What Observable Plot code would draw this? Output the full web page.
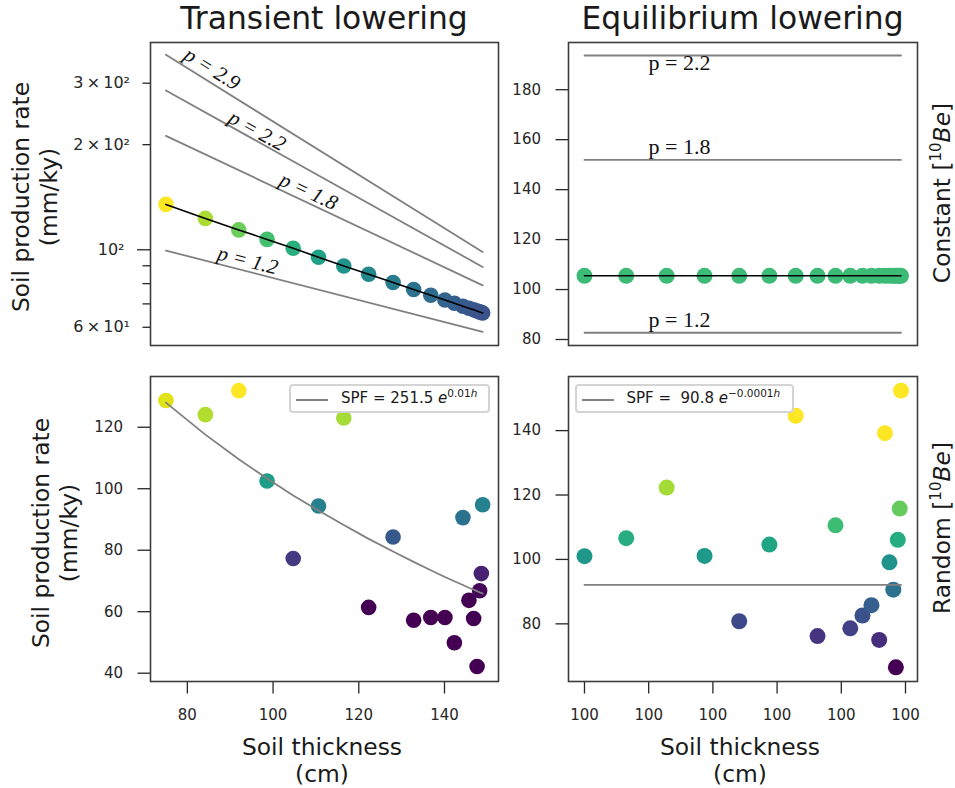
<!DOCTYPE html>
<html>
<head>
<meta charset="utf-8">
<script src="https://cdn.jsdelivr.net/npm/d3@7"></script>
<script src="https://cdn.jsdelivr.net/npm/@observablehq/plot@0.6"></script>
<style>
html, body { margin: 0; padding: 0; background: #fff; }
#fig { position: relative; width: 955px; height: 788px; font-family: "DejaVu Sans", sans-serif; color: #1a1a1a; overflow: hidden; background: #fff; }
#fig svg { position: absolute; max-width: none; }
.title { position: absolute; font-size: 31.4px; line-height: 36.6px; white-space: nowrap; transform: translateX(-50%); }
.xlab { position: absolute; font-size: 23.4px; line-height: 27.4px; text-align: center; white-space: nowrap; transform: translateX(-50%); }
.ylab { position: absolute; font-size: 23.4px; line-height: 28px; text-align: center; white-space: nowrap; transform: translate(-50%, -50%) rotate(-90deg); }
.ylab sup { font-size: 15px; line-height: 0; vertical-align: 9px; }
.legend { position: absolute; box-sizing: border-box; border: 2px solid #d4d4d4; border-radius: 4px; background: rgba(255,255,255,0.8); }
.legend .lline { position: absolute; height: 0; border-top: 2px solid #808080; }
.legend .ltext { position: absolute; font-size: 15px; line-height: 25px; white-space: nowrap; color: #1a1a1a; }
.legend sup { font-size: 10.5px; line-height: 0; vertical-align: 6.5px; }
</style>
</head>
<body>
<div id="fig"></div>
<script>
// ---------- data ----------
const thickness = [75.0, 84.2, 92.0, 98.6, 104.7, 110.6, 116.5, 122.3, 128.0, 132.8, 136.8, 140.1, 142.3, 144.3, 145.7, 146.8, 147.6, 148.2, 148.6, 148.9];
const transientConstantRate = [134.9, 123.0, 114.0, 107.1, 101.0, 95.2, 89.9, 85.1, 80.6, 77.0, 74.1, 71.8, 70.3, 68.9, 68.0, 67.3, 66.8, 66.4, 66.1, 65.9];
const transientRandomRate = [128.7, 124.1, 131.9, 102.5, 77.3, 94.4, 123.0, 61.4, 84.3, 57.2, 58.1, 58.1, 49.9, 90.6, 63.7, 57.8, 42.2, 66.8, 72.4, 94.8];
const transientFitRate = [128.0, 117.6, 109.6, 103.3, 97.8, 92.9, 88.2, 83.7, 79.6, 76.2, 73.5, 71.3, 69.9, 68.7, 67.8, 67.2, 66.7, 66.3, 66.1, 65.9];

const pCurveLabels = ["p = 2.9", "p = 2.2", "p = 1.8", "p = 1.2"];
const pCurveStartRate = [361.8, 286.0, 212.0, 99.5];
const pCurveEndRate = [98.6, 89.3, 79.1, 58.2];
const pCurveLabelThickness = [85.8, 96.3, 108.3, 94.1];
const pCurveLabelRate = [329.8, 219.1, 147.1, 93.2];
const pCurveLabelAngle = [32, 29, 25, 14.5];

const eqThickness = [100.00000, 100.00065, 100.00128, 100.00187, 100.00241, 100.00288, 100.00329, 100.00363, 100.00391, 100.00414, 100.00433, 100.00447, 100.00459, 100.00468, 100.00475, 100.00481, 100.00485, 100.00488, 100.00491, 100.00493];
const eqConstantRate = [105.5, 105.5, 105.5, 105.5, 105.5, 105.5, 105.5, 105.5, 105.5, 105.5, 105.5, 105.5, 105.5, 105.5, 105.5, 105.5, 105.5, 105.5, 105.5, 105.5];
const eqRandomRate = [101.0, 106.6, 122.3, 101.1, 80.8, 104.6, 144.6, 76.2, 110.6, 78.6, 82.6, 85.8, 75.0, 139.2, 99.1, 90.6, 66.5, 106.1, 115.8, 152.4];
const eqFitRate = [92.1, 92.1];

const pLevelLabels = ["p = 2.2", "p = 1.8", "p = 1.2"];
const pLevelRate = [193.7, 151.9, 82.7];
const pLevelLabelThickness = 100.00148;
const pLevelLabelRate = [190.6, 157.1, 87.8];

const transientXTicks = [80, 100, 120, 140];
const eqXTicks = [100, 100.001, 100.002, 100.003, 100.004, 100.005];
const eqXTickLabels = ["100", "100", "100", "100", "100", "100"];
const logMajorTicks = [100];
const logMajorLabels = ["10\u00b2"];
const logMinorTicks = [60, 70, 80, 90, 200, 300];
const logMinorLabels = ["6\u2009\u00d7\u200910\u00b9", "", "", "", "2\u2009\u00d7\u200910\u00b2", "3\u2009\u00d7\u200910\u00b2"];
const constYTicks = [80, 100, 120, 140, 160, 180];
const randTransientYTicks = [40, 60, 80, 100, 120];
const randEqYTicks = [80, 100, 120, 140];

// ---------- tables ----------
const tlDots = thickness.map((h, i) => ({h, rate: transientConstantRate[i]}));
const tlCurves = pCurveLabels.flatMap((p, i) => [
  {p, h: thickness[0], rate: pCurveStartRate[i]},
  {p, h: thickness[thickness.length - 1], rate: pCurveEndRate[i]}
]);
const tlLabels = pCurveLabels.map((p, i) => ({p, h: pCurveLabelThickness[i], rate: pCurveLabelRate[i], a: pCurveLabelAngle[i]}));

const trDots = eqThickness.map((h, i) => ({h, rate: eqConstantRate[i]}));
const trLevels = pLevelLabels.flatMap((p, i) => [
  {p, h: eqThickness[0], rate: pLevelRate[i]},
  {p, h: eqThickness[eqThickness.length - 1], rate: pLevelRate[i]}
]);
const trLabels = pLevelLabels.map((p, i) => ({p, h: pLevelLabelThickness, rate: pLevelLabelRate[i]}));

const blDots = thickness.map((h, i) => ({h, rate: transientRandomRate[i]}));
const blFit = thickness.map((h, i) => ({h, rate: transientFitRate[i]}));

const brDots = eqThickness.map((h, i) => ({h, rate: eqRandomRate[i]}));
const brFit = [
  {h: eqThickness[0], rate: eqFitRate[0]},
  {h: eqThickness[eqThickness.length - 1], rate: eqFitRate[1]}
];

// ---------- drawing ----------
const fig = document.getElementById("fig");
const baseStyle = {fontFamily: "DejaVu Sans, sans-serif", fontSize: "15px", color: "#262626", background: "none", overflow: "visible"};
const frameColor = "#3c3c3c";
const gray = "#808080";
const xDomainT = [71.4, 152.6];
const xDomainE = [99.999751, 100.005187];

function place(svg, left, top) {
  svg.style.left = left + "px";
  svg.style.top = top + "px";
  fig.appendChild(svg);
}

// Top-left: transient, constant
place(Plot.plot({
  width: 510, height: 350,
  marginLeft: 150, marginRight: 12, marginTop: 42, marginBottom: 5,
  style: baseStyle,
  x: {domain: xDomainT, axis: null},
  y: {type: "log", domain: [53.2, 392.3]},
  color: {type: "linear", scheme: "viridis", domain: [42.2, 134.9], clamp: true},
  marks: [
    Plot.line(tlCurves, {x: "h", y: "rate", z: "p", stroke: gray, strokeWidth: 1.8}),
    Plot.dot(tlDots, {x: "h", y: "rate", r: 7.8, fill: "rate"}),
    Plot.line(tlDots, {x: "h", y: "rate", stroke: "#000", strokeWidth: 1.6}),
    Plot.text(tlLabels, {x: "h", y: "rate", text: "p", rotate: "a", fontFamily: "Liberation Serif, serif", fontStyle: "italic", fontSize: 21, fill: "#111", textAnchor: "middle", lineAnchor: "middle"}),
    Plot.axisY({ticks: logMajorTicks, tickSize: 13, tickPadding: 13, strokeWidth: 1.3, label: null, fontSize: 16,
      tickFormat: d => logMajorLabels[logMajorTicks.indexOf(d)]}),
    Plot.axisY({ticks: logMinorTicks, tickSize: 7.5, tickPadding: 13, strokeWidth: 1.3, label: null, fontSize: 16,
      tickFormat: d => logMinorLabels[logMinorTicks.indexOf(d)]}),
    Plot.frame({stroke: frameColor, strokeWidth: 1.6})
  ]
}), 0, 0);

// Top-right: equilibrium, constant
place(Plot.plot({
  width: 420, height: 350,
  marginLeft: 68, marginRight: 3, marginTop: 42, marginBottom: 5,
  style: baseStyle,
  x: {domain: xDomainE, axis: null},
  y: {domain: [77.6, 198.9]},
  color: {type: "linear", scheme: "viridis", domain: [42.2, 134.9], clamp: true},
  marks: [
    Plot.line(trLevels, {x: "h", y: "rate", z: "p", stroke: gray, strokeWidth: 1.8}),
    Plot.dot(trDots, {x: "h", y: "rate", r: 8, fill: "rate"}),
    Plot.line(trDots, {x: "h", y: "rate", stroke: "#000", strokeWidth: 1.6}),
    Plot.text(trLabels, {x: "h", y: "rate", text: "p", fontFamily: "Liberation Serif, serif", fontSize: 22, fill: "#111", textAnchor: "middle", lineAnchor: "middle"}),
    Plot.axisY({ticks: constYTicks, tickSize: 12.5, tickPadding: 15, strokeWidth: 1.3, label: null}),
    Plot.frame({stroke: frameColor, strokeWidth: 1.6})
  ]
}), 500, 0);

// Bottom-left: transient, random
place(Plot.plot({
  width: 510, height: 380,
  marginLeft: 150, marginRight: 12, marginTop: 26, marginBottom: 49,
  style: baseStyle,
  x: {domain: xDomainT},
  y: {domain: [37.3, 136.5]},
  color: {type: "linear", scheme: "viridis", domain: [66, 132], clamp: true},
  marks: [
    Plot.dot(blDots, {x: "h", y: "rate", r: 7.8, fill: "rate"}),
    Plot.line(blFit, {x: "h", y: "rate", stroke: gray, strokeWidth: 1.8}),
    Plot.axisY({ticks: randTransientYTicks, tickSize: 12.5, tickPadding: 15, strokeWidth: 1.3, label: null}),
    Plot.axisX({ticks: transientXTicks, tickSize: 12.5, tickPadding: 15.5, strokeWidth: 1.3, label: null}),
    Plot.frame({stroke: frameColor, strokeWidth: 1.6})
  ]
}), 0, 350);

// Bottom-right: equilibrium, random
place(Plot.plot({
  width: 420, height: 380,
  marginLeft: 68, marginRight: 3, marginTop: 26, marginBottom: 49,
  style: baseStyle,
  x: {domain: xDomainE},
  y: {domain: [62.1, 156.8]},
  color: {type: "linear", scheme: "viridis", domain: [66.5, 131], clamp: true},
  marks: [
    Plot.dot(brDots, {x: "h", y: "rate", r: 8, fill: "rate"}),
    Plot.line(brFit, {x: "h", y: "rate", stroke: gray, strokeWidth: 1.8}),
    Plot.axisY({ticks: randEqYTicks, tickSize: 12.5, tickPadding: 15, strokeWidth: 1.3, label: null}),
    Plot.axisX({ticks: eqXTicks, tickSize: 12.5, tickPadding: 15.5, strokeWidth: 1.3, label: null,
      tickFormat: d => eqXTickLabels[eqXTicks.indexOf(d)]}),
    Plot.frame({stroke: frameColor, strokeWidth: 1.6})
  ]
}), 500, 350);

// ---------- text: titles, labels, legends ----------
function addHTML(html) {
  const t = document.createElement("template");
  t.innerHTML = html.trim();
  fig.appendChild(t.content.firstChild);
}
addHTML(`<div class="title" style="left:324px;top:0px;">Transient lowering</div>`);
addHTML(`<div class="title" style="left:742.5px;top:0px;">Equilibrium lowering</div>`);
addHTML(`<div class="ylab" style="left:34.5px;top:197px;">Soil production rate<br>(mm/ky)</div>`);
addHTML(`<div class="ylab" style="left:54.5px;top:533px;">Soil production rate<br>(mm/ky)</div>`);
addHTML(`<div class="ylab" style="left:941.5px;top:193px;">Constant [<sup>10</sup><i>Be</i>]</div>`);
addHTML(`<div class="ylab" style="left:941.5px;top:528px;">Random [<sup>10</sup><i>Be</i>]</div>`);
addHTML(`<div class="xlab" style="left:322px;top:733.5px;">Soil thickness<br>(cm)</div>`);
addHTML(`<div class="xlab" style="left:740px;top:733.5px;">Soil thickness<br>(cm)</div>`);
addHTML(`<div class="legend" style="left:289px;top:384px;width:201px;height:29px;">
  <div class="lline" style="left:5px;top:12.5px;width:32px;"></div>
  <div class="ltext" style="left:50px;top:0px;">SPF = 251.5 <i>e</i><sup>0.01<i>h</i></sup></div>
</div>`);
addHTML(`<div class="legend" style="left:574.5px;top:384px;width:219px;height:29px;">
  <div class="lline" style="left:5px;top:12.5px;width:32px;"></div>
  <div class="ltext" style="left:50px;top:0px;">SPF = &nbsp;90.8 <i>e</i><sup>\u22120.0001<i>h</i></sup></div>
</div>`);
</script>
</body>
</html>
